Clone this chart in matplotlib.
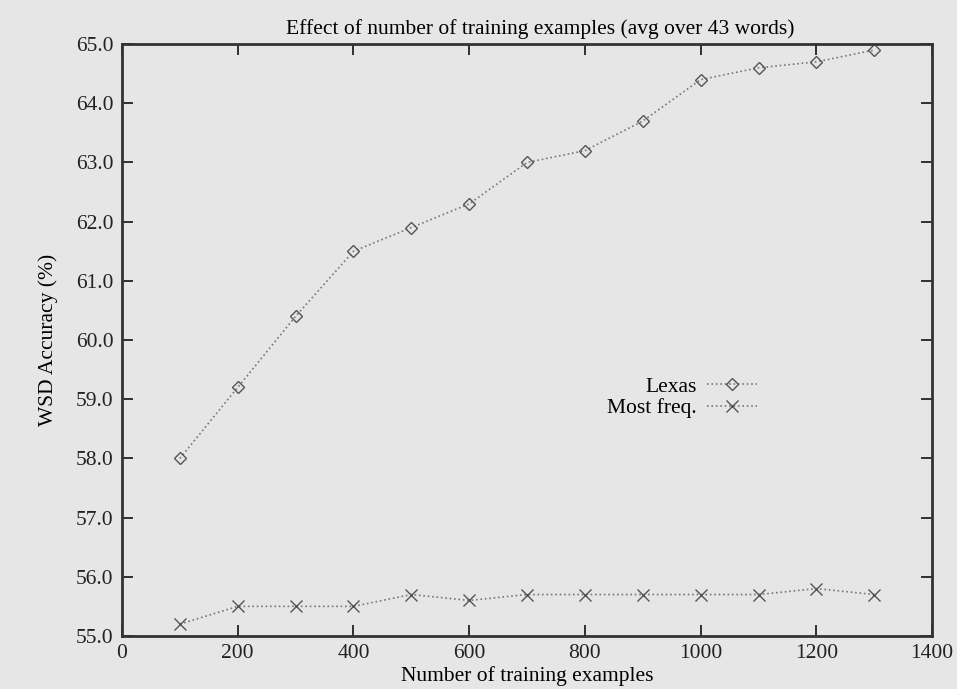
import matplotlib
matplotlib.use('Agg')
import matplotlib.pyplot as plt

n_examples = [100, 200, 300, 400, 500, 600, 700, 800, 900, 1000, 1100, 1200, 1300]
lexas = [58.0, 59.2, 60.4, 61.5, 61.9, 62.3, 63.0, 63.2, 63.7, 64.4, 64.6, 64.7, 64.9]
most_freq = [55.2, 55.5, 55.5, 55.5, 55.7, 55.6, 55.7, 55.7, 55.7, 55.7, 55.7, 55.8, 55.7]
x_ticks = [0, 200, 400, 600, 800, 1000, 1200, 1400]
y_ticks = [55, 56, 57, 58, 59, 60, 61, 62, 63, 64, 65]

bg = '#e6e6e6'
plt.rcParams['font.family'] = ['Liberation Serif', 'DejaVu Serif']
fs = 15.5

fig = plt.figure(figsize=(9.57, 6.89), dpi=100, facecolor=bg)
ax = fig.add_axes([0.1275, 0.077, 0.8465, 0.859])
ax.set_facecolor(bg)

ax.plot(n_examples, lexas, linestyle=':', color='#777777', linewidth=1.2,
        marker='D', markersize=6, markerfacecolor='none',
        markeredgecolor='#555555', markeredgewidth=1.0, label='Lexas')
ax.plot(n_examples, most_freq, linestyle=':', color='#777777', linewidth=1.2,
        marker='x', markersize=8, markeredgecolor='#555555',
        markeredgewidth=1.0, label='Most freq.')

ax.set_xlim(0, 1400)
ax.set_ylim(55, 65)
ax.set_xticks(x_ticks)
ax.set_yticks(y_ticks)
ax.set_yticklabels([f'{v:.1f}' for v in y_ticks])
ax.tick_params(direction='in', length=8, width=1.3, top=True, right=True,
               colors='#222222', labelsize=fs, pad=6)
for s in ax.spines.values():
    s.set_linewidth(2)
    s.set_color('#333333')

ax.set_title('Effect of number of training examples (avg over 43 words)',
             fontsize=fs, pad=7, x=0.516)
ax.set_xlabel('Number of training examples', fontsize=fs, labelpad=2)
ax.set_ylabel('WSD Accuracy (%)', fontsize=fs, labelpad=13)

ax.legend(loc='center left', bbox_to_anchor=(0.588, 0.403), frameon=False,
          markerfirst=False, handlelength=2.3, handletextpad=0.5,
          labelspacing=0.05, fontsize=fs, borderaxespad=0)

fig.savefig('out.png', dpi=100, facecolor=bg)
